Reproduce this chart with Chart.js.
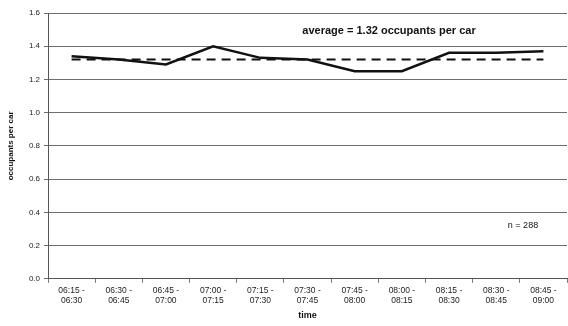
<!DOCTYPE html>
<html>
<head>
<meta charset="utf-8">
<script src="https://cdn.jsdelivr.net/npm/chart.js@4/dist/chart.umd.min.js"></script>
<style>
  html, body { margin: 0; padding: 0; background: #fff; }
  #wrap { width: 568px; height: 326px; }
</style>
</head>
<body>
<div id="wrap"><canvas id="occChart" width="568" height="326"></canvas></div>
<script>
// time intervals (15 min)
const timeSlots = [
  ['06:15 -', '06:30'], ['06:30 -', '06:45'], ['06:45 -', '07:00'],
  ['07:00 -', '07:15'], ['07:15 -', '07:30'], ['07:30 -', '07:45'],
  ['07:45 -', '08:00'], ['08:00 -', '08:15'], ['08:15 -', '08:30'],
  ['08:30 -', '08:45'], ['08:45 -', '09:00']
];
const occupancy = [1.34, 1.32, 1.29, 1.40, 1.33, 1.32, 1.25, 1.25, 1.36, 1.36, 1.37];
const averageLine = [1.32, 1.32, 1.32, 1.32, 1.32, 1.32, 1.32, 1.32, 1.32, 1.32, 1.32];
const yTicks = [0, 0.2, 0.4, 0.6, 0.8, 1.0, 1.2, 1.4, 1.6];
const averageLabel = 'average = 1.32 occupants per car';
const sampleLabel = 'n = 288';

const font = 'Liberation Sans, Arial, sans-serif';

// text notes inside the plot
const notesPlugin = {
  id: 'notes',
  afterDatasetsDraw(chart) {
    const { ctx } = chart;
    ctx.save();
    ctx.fillStyle = '#111';
    ctx.font = 'bold 11px ' + font;
    ctx.textBaseline = 'middle';
    ctx.textAlign = 'center';
    ctx.fillText(averageLabel, 389, 31);
    ctx.font = '9px ' + font;
    ctx.fillText(sampleLabel, 523, 226);
    ctx.restore();
  }
};

new Chart(document.getElementById('occChart'), {
  type: 'line',
  data: {
    labels: timeSlots,
    datasets: [{
      label: 'occupancy',
      data: occupancy,
      borderColor: '#111',
      borderWidth: 2.5,
      pointRadius: 0,
      tension: 0,
      fill: false
    }, {
      label: 'average',
      data: averageLine,
      borderColor: '#111',
      borderWidth: 2,
      borderDash: [9, 6],
      pointRadius: 0,
      fill: false
    }]
  },
  options: {
    responsive: false,
    animation: false,
    layout: { padding: { top: 13, right: 1, left: 4, bottom: 5 } },
    plugins: {
      legend: { display: false },
      tooltip: { enabled: false }
    },
    scales: {
      x: {
        offset: true,
        grid: { drawOnChartArea: false, offset: true, color: '#777', tickLength: 4 },
        border: { color: '#555' },
        ticks: { color: '#222', font: { family: font, size: 8.5 }, maxRotation: 0, autoSkip: false, padding: 3 },
        title: { display: true, text: 'time', color: '#111', font: { family: font, size: 9, weight: 'bold' }, padding: { top: 1, bottom: 0 } }
      },
      y: {
        min: 0,
        max: 1.6,
        afterBuildTicks: axis => { axis.ticks = yTicks.map(v => ({ value: v })); },
        afterFit: axis => { axis.width = 44; },
        grid: { color: '#6e6e6e', tickLength: 4 },
        border: { color: '#555' },
        ticks: {
          color: '#222',
          font: { family: font, size: 8 },
          padding: 4,
          callback: v => v.toFixed(1)
        },
        title: { display: true, text: 'occupants per car', color: '#111', font: { family: font, size: 8, weight: 'bold' }, padding: 2 }
      }
    }
  },
  plugins: [notesPlugin]
});
</script>
</body>
</html>
